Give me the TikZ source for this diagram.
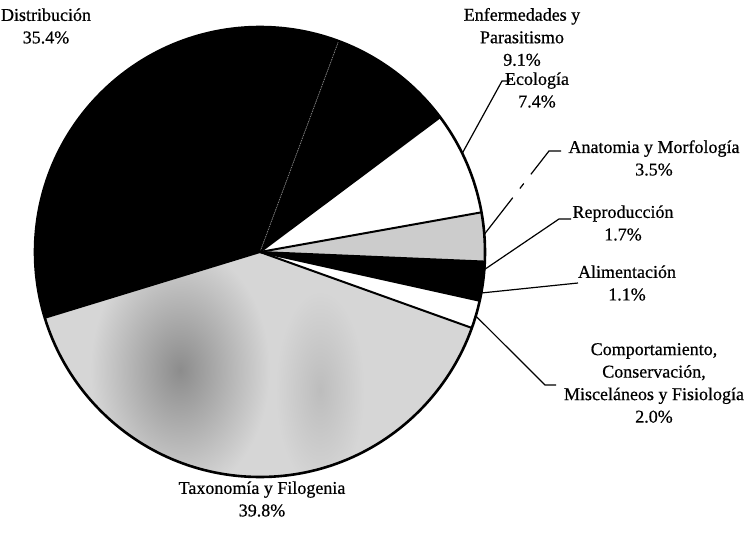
\documentclass[tikz,border=0pt]{standalone}
\usepackage{fontspec}
\usetikzlibrary{calc}
\setmainfont{Liberation Serif}
\newfontfamily\lblfont{Liberation Serif}[FakeBold=0.6]
\begin{document}
\begin{tikzpicture}[x=1pt,y=-1pt,
  lbl/.style={align=center,font=\lblfont\fontsize{18}{22.5}\selectfont,inner sep=0pt},
  lead/.style={line width=1.2pt},
  sep/.style={line width=2pt},
  rim/.style={line width=2.6pt},
  lightfill/.style={fill=black!20},
]
\useasboundingbox (0,0) rectangle (748,538);
\coordinate (C) at (260,252);
% slices (polar angle = minus mathematical angle, since y points down)
\fill[black] (C) -- ++(-197:225) arc[start angle=-197,end angle=-69.56,radius=225] -- cycle;
\fill[black] (C) -- ++(-69.56:225) arc[start angle=-69.56,end angle=-36.8,radius=225] -- cycle;
\fill[white] (C) -- ++(-36.8:225) arc[start angle=-36.8,end angle=-10.16,radius=225] -- cycle;
\fill[lightfill] (C) -- ++(-10.16:225) arc[start angle=-10.16,end angle=2.44,radius=225] -- cycle;
\fill[black] (C) -- ++(2.44:225) arc[start angle=2.44,end angle=12.52,radius=225] -- cycle;
\fill[white] (C) -- ++(12.52:225) arc[start angle=12.52,end angle=19.72,radius=225] -- cycle;
\begin{scope}
  \clip (C) -- ++(19.72:225) arc[start angle=19.72,end angle=163,radius=225] -- cycle;
  \fill[black!16] (0,0) rectangle (748,538);
  \shade[inner color=black!45, outer color=black!16] (180,370) ellipse (90 and 125);
  \shade[inner color=black!26, outer color=black!16] (320,390) ellipse (45 and 100);
\end{scope}
% boundaries
\draw[white!55!black, densely dotted, line width=0.8pt] (C) -- ++(-69.56:225);
\foreach \a in {-36.8,-10.16,2.44,12.52,19.72,163}
  \draw[sep] (C) -- ++(\a:225);
\draw[rim] (C) circle[radius=225];
% anchor points on the rim
\path (C) ++(-26:225) coordinate (pEco);
\path (C) ++(-4.5:225) coordinate (pAna);
\path (C) ++(4.5:225) coordinate (pRep);
\path (C) ++(10.5:225) coordinate (pAli);
\path (C) ++(16.5:225) coordinate (pCom);
% labels
\node[lbl] (dist) at (46,26) {Distribución\\35.4\%};
\node[lbl] (enf) at (522,37) {Enfermedades y\\Parasitismo\\9.1\%};
\node[lbl] (eco) at (537,90) {Ecología\\7.4\%};
\node[lbl] (ana) at (654,158) {Anatomia y Morfología\\3.5\%};
\node[lbl] (rep) at (623,223) {Reproducción\\1.7\%};
\node[lbl] (ali) at (627,283) {Alimentación\\1.1\%};
\node[lbl] (com) at (654,383) {Comportamiento,\\Conservación,\\Misceláneos y Fisiología\\2.0\%};
\node[lbl] (tax) at (262,499) {Taxonomía y Filogenia\\39.8\%};
% leader lines
\coordinate (eB) at (502,81);  \coordinate (eE) at (510,81);
\coordinate (aB) at (549,151); \coordinate (aE) at (561,151);
\coordinate (a1) at ($(pAna)!0.44!(aB)$);
\coordinate (a2) at ($(pAna)!0.55!(aB)$);
\coordinate (a3) at ($(pAna)!0.61!(aB)$);
\coordinate (a4) at ($(pAna)!0.72!(aB)$);
\coordinate (rB) at (559,219); \coordinate (rE) at (571,219);
\coordinate (lE) at (578,283);
\coordinate (cB) at (545,385); \coordinate (cE) at (556,385);
\draw[lead] (pEco) -- (eB) -- (eE);
\draw[lead] (pAna) -- (a1) (a2) -- (a3) (a4) -- (aB) -- (aE);
\draw[lead] (pRep) -- (rB) -- (rE);
\draw[lead] (pAli) -- (lE);
\draw[lead] (pCom) -- (cB) -- (cE);
\end{tikzpicture}
\end{document}
